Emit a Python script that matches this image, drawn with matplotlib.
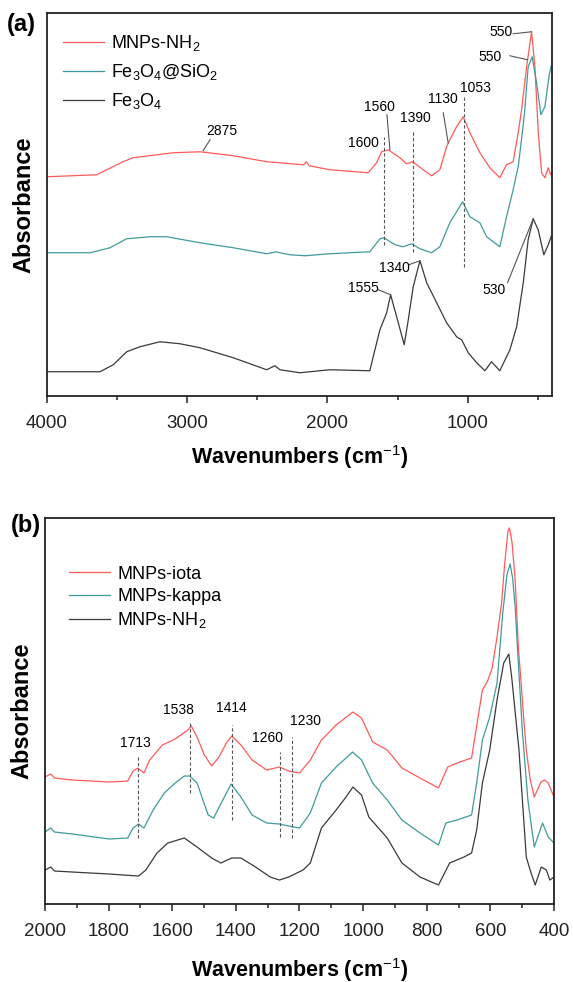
import matplotlib
matplotlib.use('Agg')
import matplotlib.pyplot as plt
from matplotlib.ticker import MultipleLocator

plt.rcParams['font.family'] = ['Liberation Sans', 'DejaVu Sans']
plt.rcParams['mathtext.fontset'] = 'custom'
plt.rcParams['mathtext.rm'] = 'Liberation Sans'
plt.rcParams['mathtext.it'] = 'Liberation Sans:italic'
plt.rcParams['mathtext.bf'] = 'Liberation Sans:bold'

RED = '#ff5a5a'
TEAL = '#3f9b9b'
BLACK = '#3a3a3a'
DASH = '#555555'

# ---------------- Panel (a) data ----------------
a_labels = ['MNPs-NH$_2$', 'Fe$_3$O$_4$@SiO$_2$', 'Fe$_3$O$_4$']

a_red_wn = [4000, 3644, 3457, 3385, 3100, 2908, 2671, 2430, 2338, 2267, 2170, 2150, 2130,
            1983, 1710, 1650, 1614, 1567, 1484, 1436, 1393, 1318, 1258, 1199, 1151, 1128,
            1080, 1033, 985, 914, 843, 772, 724, 677, 641, 617, 581, 546, 522, 498, 474,
            451, 427, 410, 400]
a_red_abs = [2.19, 2.21, 2.34, 2.38, 2.43, 2.44, 2.40, 2.34, 2.33, 2.32, 2.31, 2.34, 2.30,
             2.26, 2.23, 2.33, 2.44, 2.46, 2.38, 2.32, 2.34, 2.26, 2.20, 2.26, 2.49, 2.56,
             2.69, 2.79, 2.63, 2.43, 2.28, 2.18, 2.31, 2.34, 2.63, 2.86, 3.29, 3.64, 3.29,
             2.63, 2.23, 2.18, 2.28, 2.21, 2.23]

a_teal_wn = [4000, 3692, 3549, 3430, 3264, 3145, 2908, 2671, 2433, 2362, 2338, 2267, 2160,
             1983, 1698, 1626, 1597, 1519, 1460, 1400, 1341, 1258, 1199, 1128, 1080, 1037,
             985, 914, 866, 772, 724, 677, 640, 610, 594, 570, 541, 510, 479, 451, 420, 400]
a_teal_abs = [1.43, 1.43, 1.48, 1.57, 1.59, 1.59, 1.53, 1.48, 1.42, 1.44, 1.43, 1.41, 1.40,
              1.42, 1.44, 1.57, 1.58, 1.51, 1.49, 1.52, 1.47, 1.43, 1.49, 1.73, 1.84, 1.94,
              1.79, 1.73, 1.59, 1.49, 1.79, 2.06, 2.30, 2.65, 2.86, 3.29, 3.39, 3.13, 2.81,
              2.89, 3.21, 3.33]

a_black_wn = [4000, 3620, 3526, 3430, 3336, 3193, 3051, 2908, 2671, 2433, 2374, 2338, 2196,
              1983, 1698, 1674, 1626, 1578, 1550, 1507, 1453, 1424, 1389, 1341, 1293, 1222,
              1151, 1080, 1044, 997, 937, 878, 831, 772, 700, 652, 605, 570, 534, 499, 458,
              427, 404]
a_black_abs = [0.24, 0.24, 0.31, 0.44, 0.49, 0.54, 0.52, 0.48, 0.38, 0.26, 0.30, 0.26, 0.23,
               0.26, 0.25, 0.39, 0.66, 0.83, 1.01, 0.79, 0.51, 0.76, 1.09, 1.35, 1.13, 0.93,
               0.73, 0.59, 0.56, 0.43, 0.33, 0.25, 0.34, 0.25, 0.46, 0.69, 1.13, 1.56, 1.77,
               1.66, 1.41, 1.51, 1.60]

# dashed marker lines (a)
a_dash_wn = [1597, 1389, 1028]
a_dash_top = [2.59, 2.66, 2.99]
a_dash_bot = [1.51, 1.44, 1.29]

# peak labels (a): text, text position, leader line (from -> to) or None
a_ann_text = ['2875', '1600', '1560', '1390', '1130', '1053', '550', '550', '1555', '1340', '530']
a_ann_wn = [2751, 1747, 1628, 1377, 1177, 946, 761, 842, 1740, 1526, 814]
a_ann_y = [2.65, 2.53, 2.89, 2.78, 2.97, 3.08, 3.64, 3.39, 1.08, 1.28, 1.06]
a_lead_wn0 = [2836, None, 1576, None, 1175, None, 677, 700, 1638, 1420, 717]
a_lead_y0 = [2.56, None, 2.81, None, 2.83, None, 3.62, 3.40, 1.06, 1.31, 1.13]
a_lead_wn1 = [2886, None, 1555, None, 1140, None, 546, 574, 1550, 1341, 534]
a_lead_y1 = [2.45, None, 2.46, None, 2.53, None, 3.64, 3.36, 1.01, 1.35, 1.77]

# ---------------- Panel (b) data ----------------
b_labels = ['MNPs-iota', 'MNPs-kappa', 'MNPs-NH$_2$']

b_red_wn = [2000, 1982, 1970, 1913, 1798, 1740, 1723, 1708, 1689, 1671, 1631, 1591, 1551,
            1540, 1522, 1499, 1476, 1453, 1430, 1413, 1384, 1349, 1303, 1263, 1234, 1200,
            1166, 1131, 1085, 1032, 1005, 970, 924, 878, 821, 763, 734, 705, 659, 625, 610,
            595, 580, 565, 555, 545, 540, 532, 522, 512, 504, 495, 487, 475, 462, 441, 430,
            418, 400]
b_red_abs = [1.27, 1.30, 1.26, 1.24, 1.22, 1.23, 1.33, 1.36, 1.31, 1.44, 1.59, 1.65, 1.74,
             1.78, 1.67, 1.49, 1.38, 1.47, 1.61, 1.68, 1.59, 1.44, 1.34, 1.37, 1.33, 1.31,
             1.44, 1.64, 1.79, 1.92, 1.86, 1.62, 1.54, 1.36, 1.26, 1.16, 1.37, 1.41, 1.46,
             2.14, 2.22, 2.35, 2.65, 3.00, 3.40, 3.72, 3.76, 3.62, 3.24, 2.57, 2.24, 1.85,
             1.54, 1.25, 1.07, 1.22, 1.24, 1.21, 1.07]

b_teal_wn = [2000, 1982, 1970, 1913, 1798, 1740, 1723, 1706, 1689, 1660, 1625, 1591, 1562,
             1545, 1522, 1487, 1470, 1441, 1415, 1384, 1349, 1303, 1263, 1234, 1200, 1166,
             1131, 1085, 1033, 1005, 970, 924, 878, 821, 763, 740, 705, 659, 643, 625, 602,
             579, 561, 548, 538, 530, 522, 515, 499, 482, 462, 436, 418, 400]
b_teal_abs = [0.72, 0.76, 0.72, 0.70, 0.65, 0.66, 0.76, 0.80, 0.76, 0.94, 1.11, 1.21, 1.28,
              1.28, 1.21, 0.89, 0.86, 1.04, 1.20, 1.07, 0.89, 0.81, 0.80, 0.78, 0.76, 0.91,
              1.21, 1.37, 1.52, 1.44, 1.21, 1.04, 0.84, 0.71, 0.59, 0.81, 0.84, 0.89, 1.21,
              1.64, 1.87, 2.21, 2.91, 3.29, 3.40, 3.26, 2.97, 2.57, 1.71, 1.04, 0.57, 0.81,
              0.67, 0.61]

b_black_wn = [2000, 1982, 1970, 1913, 1798, 1706, 1683, 1648, 1614, 1562, 1522, 1476, 1447,
              1413, 1384, 1338, 1292, 1263, 1234, 1189, 1166, 1131, 1085, 1056, 1032, 1005,
              982, 924, 878, 821, 763, 728, 683, 659, 643, 625, 602, 579, 558, 542, 533, 510,
              487, 475, 459, 440, 424, 413, 400]
b_black_abs = [0.34, 0.37, 0.33, 0.32, 0.30, 0.28, 0.34, 0.51, 0.61, 0.66, 0.57, 0.46, 0.41,
               0.46, 0.46, 0.37, 0.27, 0.24, 0.27, 0.34, 0.41, 0.76, 0.94, 1.06, 1.17, 1.09,
               0.87, 0.66, 0.41, 0.27, 0.19, 0.41, 0.47, 0.51, 0.74, 1.21, 1.54, 2.04, 2.41,
               2.50, 2.27, 1.54, 0.47, 0.34, 0.19, 0.37, 0.34, 0.24, 0.27]

b_dash_wn = [1708, 1543, 1411, 1262, 1223]
b_dash_top = [1.48, 1.83, 1.79, 1.52, 1.67]
b_dash_bot = [0.66, 1.11, 0.84, 0.67, 0.66]
b_ann_text = ['1713', '1538', '1414', '1260', '1230']
b_ann_wn = [1716, 1580, 1415, 1299, 1180]
b_ann_y = [1.61, 1.94, 1.96, 1.66, 1.83]

# ---------------- Figure ----------------
fig = plt.figure(figsize=(5.73, 9.82), dpi=100)
axa = fig.add_axes([0.0815, 0.597, 0.8819, 0.390])
axb = fig.add_axes([0.0785, 0.0794, 0.8883, 0.3931])

lw = 0.9
la = []
la += axa.plot(a_red_wn, a_red_abs, color=RED, lw=lw)
la += axa.plot(a_teal_wn, a_teal_abs, color=TEAL, lw=lw)
la += axa.plot(a_black_wn, a_black_abs, color=BLACK, lw=lw)
for w, t, b in zip(a_dash_wn, a_dash_top, a_dash_bot):
    axa.plot([w, w], [b, t], color=DASH, lw=0.8, ls=(0, (3, 2)))
for i, t in enumerate(a_ann_text):
    axa.text(a_ann_wn[i], a_ann_y[i], t, fontsize=10, ha='center', va='center')
    if a_lead_wn0[i] is not None:
        axa.plot([a_lead_wn0[i], a_lead_wn1[i]], [a_lead_y0[i], a_lead_y1[i]],
                 color=DASH, lw=0.8)

lb = []
lb += axb.plot(b_red_wn, b_red_abs, color=RED, lw=lw)
lb += axb.plot(b_teal_wn, b_teal_abs, color=TEAL, lw=lw)
lb += axb.plot(b_black_wn, b_black_abs, color=BLACK, lw=lw)
for w, t, b in zip(b_dash_wn, b_dash_top, b_dash_bot):
    axb.plot([w, w], [b, t], color=DASH, lw=0.8, ls=(0, (3, 2)))
for i, t in enumerate(b_ann_text):
    axb.text(b_ann_wn[i], b_ann_y[i], t, fontsize=10, ha='center', va='center')

axa.set_xlim(4000, 400)
axa.set_ylim(0, 3.83)
axb.set_xlim(2000, 400)
axb.set_ylim(0, 3.86)

axa.xaxis.set_major_locator(MultipleLocator(1000))
axa.xaxis.set_minor_locator(MultipleLocator(500))
axb.xaxis.set_major_locator(MultipleLocator(200))
axb.xaxis.set_minor_locator(MultipleLocator(100))

for ax, lp in ((axa, 8), (axb, 11)):
    ax.set_yticks([])
    for s in ax.spines.values():
        s.set_linewidth(1.3)
        s.set_color('#222222')
    ax.tick_params(axis='x', which='major', direction='out', length=5, width=1.1,
                   labelsize=13.5, pad=9, colors='#222222')
    ax.tick_params(axis='x', which='minor', direction='out', length=3, width=1.1,
                   colors='#222222')
    ax.set_xlabel('Wavenumbers (cm$^{-1}$)', fontsize=15.5, fontweight='bold', labelpad=lp)
    ax.set_ylabel('Absorbance', fontsize=17, fontweight='bold', labelpad=8)

axa.legend(la, a_labels, loc='upper left', bbox_to_anchor=(0.01, 0.975), frameon=False,
           fontsize=13, handlelength=2.3, handletextpad=0.4, labelspacing=0.5,
           borderaxespad=0.2)
axb.legend(lb, b_labels, loc='upper left', bbox_to_anchor=(0.025, 0.905), frameon=False,
           fontsize=13, handlelength=2.3, handletextpad=0.4, labelspacing=0.3,
           borderaxespad=0.2)

fig.text(0.038, 0.975, '(a)', fontsize=17, fontweight='bold', ha='center', va='center')
fig.text(0.045, 0.465, '(b)', fontsize=17, fontweight='bold', ha='center', va='center')

fig.savefig('out.png', dpi=100)
